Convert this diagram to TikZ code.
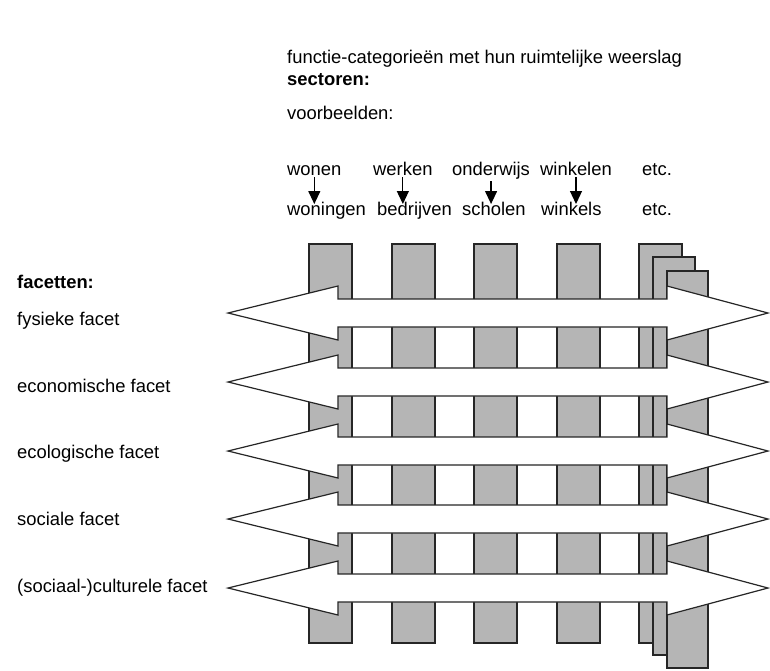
\documentclass[tikz,border=0pt]{standalone}
\usepackage{fontspec}
\setmainfont{Liberation Sans}
\usetikzlibrary{arrows.meta}
\definecolor{barfill}{HTML}{B5B5B5}

\begin{document}
\begin{tikzpicture}[
    x=1pt,y=-1pt,
    lbl/.style={font=\fontsize{18.4}{21}\selectfont,inner sep=0pt,anchor=base west},
    bar/.style={draw=black!85,line width=1.2pt,fill=barfill},
    band/.style={draw=black!85,line width=1.2pt,fill=white,line join=miter},
    down/.style={-{Triangle[width=12pt,length=13pt]},line width=1.2pt}
  ]
  \useasboundingbox (0,0) rectangle (770,670);
  \node[lbl] (title) at (287,63) {functie-categorieën met hun ruimtelijke weerslag};
  \node[lbl] (sect) at (287,85) {\textbf{sectoren:}};
  \node[lbl] (vb) at (287,119) {voorbeelden:};
  \node[lbl] (wonen) at (287,175) {wonen};
  \node[lbl] (werken) at (373,175) {werken};
  \node[lbl] (onderwijs) at (452,175) {onderwijs};
  \node[lbl] (winkelen) at (540,175) {winkelen};
  \node[lbl] (etcA) at (642,175) {etc.};
  \node[lbl] (woningen) at (287,215) {woningen};
  \node[lbl] (bedrijven) at (377,215) {bedrijven};
  \node[lbl] (scholen) at (462,215) {scholen};
  \node[lbl] (winkels) at (541,215) {winkels};
  \node[lbl] (etcB) at (642,215) {etc.};
  \foreach \a/\b in {wonen/woningen,werken/bedrijven,onderwijs/scholen,winkelen/winkels}
    \draw[down] ([yshift=-2pt]\a.south) -- ([yshift=11pt]\a.south |- \b.base);
  \foreach \x in {309,392,474,557,639}
    \draw[bar] (\x,244) rectangle ++(43,399);
  \draw[bar] (653,257) rectangle (695,655);
  \draw[bar] (667,271) rectangle (708,668);
  \foreach \c in {313,382,451,519,588}
    \draw[band] (228,\c) -- (338,\c-27) -- (338,\c-14) -- (667,\c-14) -- (667,\c-27)
      -- (768,\c) -- (667,\c+27) -- (667,\c+14) -- (338,\c+14) -- (338,\c+27) -- cycle;
  \node[lbl] (fac) at (17,288) {\textbf{facetten:}};
  \node[lbl] (fys) at (17,325) {fysieke facet};
  \node[lbl] (eco) at (17,392) {economische facet};
  \node[lbl] (ecol) at (17,458) {ecologische facet};
  \node[lbl] (soc) at (17,525) {sociale facet};
  \node[lbl] (cult) at (17,592) {(sociaal-)culturele facet};
\end{tikzpicture}
\end{document}
